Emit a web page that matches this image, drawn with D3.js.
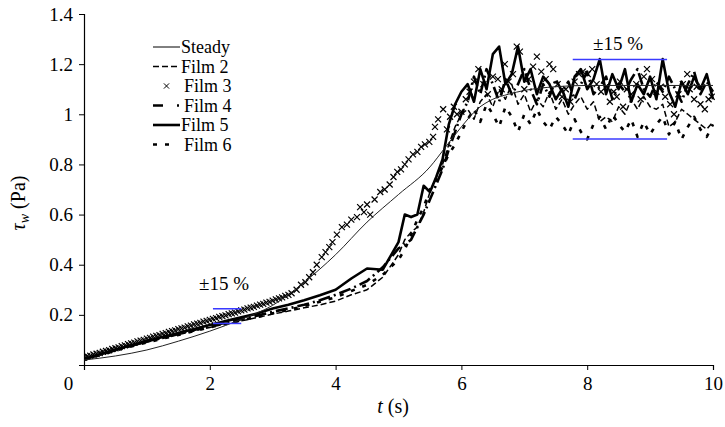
<!DOCTYPE html>
<html>
<head>
<meta charset="utf-8">
<script src="https://cdn.jsdelivr.net/npm/d3@7"></script>
<style>
  html, body { margin: 0; padding: 0; background: #fff; }
  svg { display: block; }
</style>
</head>
<body>
<svg id="chart" width="725" height="427"></svg>
<script>
// Time grid shared by the film records (s)
const tGrid = [0, 0.25, 0.5, 0.75, 1, 1.25, 1.5, 1.75, 2, 2.25, 2.5, 2.75, 3, 3.25, 3.5, 3.75, 4, 4.25, 4.5, 4.75, 5,
  5.1, 5.2, 5.3, 5.4, 5.5, 5.6, 5.7, 5.8, 5.9, 6.0,
  6.1, 6.2, 6.3, 6.4, 6.5, 6.6, 6.7, 6.8, 6.9, 7.0,
  7.1, 7.2, 7.3, 7.4, 7.5, 7.6, 7.7, 7.8, 7.9, 8.0,
  8.1, 8.2, 8.3, 8.4, 8.5, 8.6, 8.7, 8.8, 8.9, 9.0,
  9.1, 9.2, 9.3, 9.4, 9.5, 9.6, 9.7, 9.8, 9.9, 10.0];

// Wall shear stress, Pa
const film2 = [0.022, 0.040, 0.058, 0.075, 0.091, 0.106, 0.121, 0.136, 0.150, 0.163, 0.176, 0.189, 0.203, 0.215, 0.228, 0.240, 0.255, 0.280, 0.300, 0.350, 0.440,
  0.50, 0.53, 0.55, 0.61, 0.69, 0.75, 0.80, 0.88, 0.95, 1.00,
  1.02, 0.98, 1.05, 1.08, 1.03, 1.10, 1.06, 1.12, 1.04, 1.08,
  1.01, 1.06, 1.03, 1.09, 1.02, 1.06, 1.00, 1.04, 1.07, 1.02,
  1.05, 0.97, 0.99, 0.97, 1.03, 1.00, 1.06, 1.02, 1.07, 1.03,
  1.02, 1.04, 0.95, 0.97, 1.02, 1.00, 0.98, 0.96, 0.94, 0.97];

const film4 = [0.022, 0.041, 0.059, 0.077, 0.094, 0.110, 0.125, 0.140, 0.155, 0.169, 0.183, 0.197, 0.212, 0.226, 0.240, 0.258, 0.280, 0.305, 0.335, 0.390, 0.465,
  0.48, 0.50, 0.55, 0.60, 0.66, 0.72, 0.78, 0.86, 0.93, 1.00,
  1.05, 1.15, 1.08, 1.18, 1.12, 1.05, 1.14, 1.08, 1.12, 1.18,
  1.10, 1.04, 1.12, 1.07, 1.14, 1.09, 1.13, 1.06, 1.12, 1.17,
  1.08, 1.11, 1.15, 1.06, 1.12, 1.09, 1.14, 1.18, 1.10, 1.07,
  1.13, 1.09, 1.15, 1.10, 1.05, 1.12, 1.17, 1.08, 1.13, 1.09];

const film5 = [0.025, 0.043, 0.061, 0.079, 0.096, 0.112, 0.128, 0.144, 0.160, 0.175, 0.190, 0.205, 0.225, 0.240, 0.258, 0.278, 0.300, 0.345, 0.385, 0.380, 0.490,
  0.600, 0.590, 0.600, 0.715, 0.690, 0.750, 0.820, 0.960, 1.040, 1.090,
  1.12, 1.05, 1.18, 1.10, 1.24, 1.27, 1.12, 1.16, 1.27, 1.13,
  1.18, 1.08, 1.15, 1.12, 1.06, 1.10, 1.03, 1.15, 1.18, 1.10,
  1.14, 1.22, 1.08, 1.16, 1.10, 1.18, 1.05, 1.12, 1.08, 1.15,
  1.06, 1.22, 1.09, 1.03, 1.13, 1.08, 1.15, 1.10, 1.16, 1.06];

const film6 = [0.020, 0.039, 0.057, 0.074, 0.090, 0.105, 0.120, 0.135, 0.150, 0.164, 0.178, 0.192, 0.206, 0.220, 0.235, 0.252, 0.270, 0.295, 0.320, 0.360, 0.420,
  0.46, 0.52, 0.58, 0.63, 0.70, 0.74, 0.79, 0.84, 0.88, 0.93,
  0.98, 1.02, 0.97, 1.04, 1.00, 0.95, 1.03, 0.99, 0.93, 1.00,
  0.96, 1.02, 0.97, 0.94, 0.99, 0.96, 0.92, 0.98, 0.93, 0.90,
  0.96, 0.99, 0.94, 1.00, 0.96, 0.93, 0.98, 0.91, 0.97, 0.92,
  0.96, 0.99, 0.92, 0.97, 0.90, 0.95, 0.99, 0.94, 0.91, 0.96];

// Film 3 is plotted as individual samples
const film3T = [0.00, 0.05, 0.10, 0.15, 0.20, 0.25, 0.30, 0.35, 0.40, 0.45, 0.50, 0.55, 0.60, 0.65, 0.70, 0.75, 0.80, 0.85, 0.90, 0.95,
  1.00, 1.05, 1.10, 1.15, 1.20, 1.25, 1.30, 1.35, 1.40, 1.45, 1.50, 1.55, 1.60, 1.65, 1.70, 1.75, 1.80, 1.85, 1.90, 1.95,
  2.00, 2.05, 2.10, 2.15, 2.20, 2.25, 2.30, 2.35, 2.40, 2.45, 2.50, 2.55, 2.60, 2.65, 2.70, 2.75, 2.80, 2.85, 2.90, 2.95,
  3.00, 3.05, 3.10, 3.15, 3.20, 3.25, 3.30,
  3.38, 3.45, 3.52, 3.58, 3.64, 3.70, 3.78, 3.84, 3.90, 3.95, 4.02, 4.10, 4.18, 4.25, 4.34, 4.39, 4.45, 4.50, 4.55, 4.62,
  4.71, 4.78, 4.86, 4.92, 4.98, 5.04, 5.10, 5.16, 5.23, 5.30, 5.36, 5.42, 5.49, 5.55, 5.58, 5.63, 5.71, 5.77, 5.82, 5.88,
  5.93, 6.00, 6.07, 6.13, 6.20, 6.27, 6.35, 6.42, 6.50, 6.58, 6.64, 6.69, 6.75, 6.82, 6.88, 6.93, 7.00, 7.07, 7.14, 7.20,
  7.27, 7.34, 7.40, 7.46, 7.53, 7.60, 7.66, 7.73, 7.80, 7.87, 7.93, 8.01, 8.08, 8.15, 8.22, 8.31, 8.36, 8.42, 8.47, 8.52,
  8.57, 8.63, 8.70, 8.78, 8.85, 8.90, 8.95, 9.03, 9.10, 9.17, 9.24, 9.32, 9.38, 9.45, 9.52, 9.59, 9.63, 9.70, 9.74, 9.80,
  9.87, 9.93, 9.98];
const film3V = [0.030, 0.035, 0.037, 0.042, 0.045, 0.048, 0.053, 0.056, 0.059, 0.064, 0.067, 0.070, 0.075, 0.078, 0.083, 0.086, 0.089, 0.094, 0.097, 0.100,
  0.105, 0.108, 0.113, 0.116, 0.119, 0.124, 0.127, 0.132, 0.135, 0.138, 0.143, 0.146, 0.149, 0.154, 0.157, 0.162, 0.165, 0.168, 0.173, 0.176,
  0.180, 0.184, 0.187, 0.192, 0.195, 0.198, 0.203, 0.206, 0.209, 0.214, 0.218, 0.221, 0.226, 0.229, 0.232, 0.237, 0.241, 0.244, 0.249, 0.252,
  0.257, 0.262, 0.266, 0.270, 0.276, 0.280, 0.286,
  0.30, 0.32, 0.33, 0.35, 0.37, 0.40, 0.43, 0.45, 0.47, 0.49, 0.52, 0.55, 0.56, 0.58, 0.59, 0.63, 0.61, 0.64, 0.60, 0.66,
  0.69, 0.70, 0.72, 0.75, 0.77, 0.78, 0.80, 0.82, 0.84, 0.85, 0.87, 0.88, 0.89, 0.91, 0.95, 0.98, 1.02, 0.94, 0.99, 1.03,
  1.00, 1.01, 1.06, 1.09, 1.13, 1.18, 1.12, 1.08, 1.15, 1.14, 1.10, 1.20, 1.13, 1.16, 1.27, 1.25, 1.10, 1.14, 1.19, 1.23,
  1.17, 1.14, 1.20, 1.18, 1.12, 1.07, 1.10, 1.05, 1.13, 1.16, 1.17, 1.16, 1.18, 1.12, 1.09, 1.11, 1.05, 1.09, 1.07, 1.13,
  1.03, 1.10, 1.08, 1.12, 1.06, 1.15, 1.18, 1.14, 1.09, 1.11, 1.07, 1.04, 1.00, 1.08, 1.12, 1.16, 1.10, 1.06, 1.11, 1.04,
  1.02, 1.06, 1.07];

// Steady-flow shear stress at the instantaneous flow rate
const steadyT = [0, 0.5, 1, 1.5, 2, 2.5, 3, 3.5, 4, 4.5, 5, 5.5, 5.75, 6, 6.25, 6.5, 6.75, 7, 7.5, 8, 9, 10];
const steadyV = [0.02, 0.036, 0.060, 0.095, 0.135, 0.182, 0.238, 0.33, 0.44, 0.57, 0.68, 0.79, 0.87, 0.95, 1.02, 1.06, 1.08, 1.095, 1.11, 1.115, 1.115, 1.115];

// ±15 % bands: [tStart, tEnd, reference value]
const bandEarly = [2.05, 2.5, 0.195];
const bandLate = [7.77, 9.27, 1.06];

const xTicks = [0, 2, 4, 6, 8, 10];
const yTicks = [0.2, 0.4, 0.6, 0.8, 1, 1.2, 1.4];

const seriesNames = ["Steady", "Film 2", "Film 3", "Film 4", "Film 5", "Film 6"];

const FAMILY = "Liberation Serif, Times New Roman, serif";

const svg = d3.select("#chart").attr("font-family", FAMILY);
const x = d3.scaleLinear().domain([0, 10]).range([84, 713]);
const y = d3.scaleLinear().domain([0, 1.4]).range([365, 14]);

const FONT = 19;

// Axes
const gx = svg.append("g").attr("transform", `translate(0,${y(0)})`)
  .call(d3.axisBottom(x).tickValues(xTicks).tickSize(5).tickPadding(7).tickFormat(d3.format("d")));
gx.selectAll("text")
  .attr("dx", d => d === 0 ? -16 : 0);

const gy = svg.append("g").attr("transform", `translate(${x(0)},0)`)
  .call(d3.axisLeft(y).tickValues([0].concat(yTicks)).tickSize(5).tickPadding(6)
    .tickFormat(d => d === 0 ? "" : String(d)));

[gx, gy].forEach(g => {
  g.attr("font-family", FAMILY).attr("font-size", FONT);
  g.selectAll("text").attr("fill", "#000");
  g.select(".domain").attr("stroke", "#000").attr("stroke-width", 1.2);
  g.selectAll(".tick line").attr("stroke", "#000").attr("stroke-width", 1);
});

// Axis titles
svg.append("text")
  .attr("x", 393).attr("y", 413).attr("text-anchor", "middle").attr("font-size", 20)
  .call(t => {
    t.append("tspan").attr("font-style", "italic").text("t");
    t.append("tspan").text(" (s)");
  });

svg.append("text")
  .attr("transform", "translate(25,203) rotate(-90)").attr("text-anchor", "middle").attr("font-size", 20)
  .call(t => {
    t.append("tspan").attr("font-style", "italic").text("τ");
    t.append("tspan").attr("font-style", "italic").attr("font-size", 14).attr("dy", 4).text("w");
    t.append("tspan").attr("dy", -4).text(" (Pa)");
  });

// Line styles
const styles = {
  "Steady": { width: 1, dash: null, color: "#222" },
  "Film 2": { width: 1.5, dash: "6,3" },
  "Film 4": { width: 2.6, dash: "12,4,2,4" },
  "Film 5": { width: 2.6, dash: null },
  "Film 6": { width: 2.6, dash: "4,8" }
};

svg.append("clipPath").attr("id", "plot-clip")
  .append("rect").attr("x", x(0)).attr("y", 0).attr("width", x(10) - x(0) + 2).attr("height", y(0));

const plot = svg.append("g").attr("clip-path", "url(#plot-clip)");

const line = d3.line().x(d => x(d[0])).y(d => y(d[1]));
const smooth = d3.line().x(d => x(d[0])).y(d => y(d[1])).curve(d3.curveMonotoneX);

function drawFilm(name, values) {
  const s = styles[name];
  plot.append("path")
    .datum(tGrid.map((t, i) => [t, values[i]]))
    .attr("fill", "none")
    .attr("stroke", "#000")
    .attr("stroke-width", s.width)
    .attr("stroke-linejoin", "round")
    .attr("stroke-dasharray", s.dash)
    .attr("d", line);
}

drawFilm("Film 6", film6);
drawFilm("Film 2", film2);
drawFilm("Film 4", film4);
drawFilm("Film 5", film5);

// Film 3 markers
const cross = (cx, cy, r) => `M${cx - r},${cy - r}L${cx + r},${cy + r}M${cx - r},${cy + r}L${cx + r},${cy - r}`;
plot.append("g").selectAll("path")
  .data(film3T.map((t, i) => [t, film3V[i]]))
  .join("path")
  .attr("d", d => cross(x(d[0]), y(d[1]), 3))
  .attr("stroke", "#000").attr("stroke-width", 1.2).attr("fill", "none");

// Steady curve
plot.append("path")
  .datum(steadyT.map((t, i) => [t, steadyV[i]]))
  .attr("fill", "none").attr("stroke", styles["Steady"].color).attr("stroke-width", 1)
  .attr("d", smooth);

// ±15 % bands
function band(b, labelX, labelY) {
  const [t0, t1, v] = b;
  [1.15, 0.85].forEach(f => {
    svg.append("line")
      .attr("x1", x(t0)).attr("x2", x(t1)).attr("y1", y(v * f)).attr("y2", y(v * f))
      .attr("stroke", "#3a3aff").attr("stroke-width", 1.5);
  });
  svg.append("text").attr("x", labelX).attr("y", labelY).attr("text-anchor", "middle")
    .attr("font-size", 19).text("±15 %");
}
band(bandEarly, 224, 290);
band(bandLate, 618, 50);

// Legend
const legend = svg.append("g").attr("font-size", 18);
const rowY = [47, 66.5, 86, 105.5, 125, 144.5];
const legendDash = {
  "Steady": null,
  "Film 2": "6,3",
  "Film 4": "10,14,2,6",
  "Film 5": null,
  "Film 6": "4,8,4,20"
};
seriesNames.forEach((name, i) => {
  const yy = rowY[i];
  if (name === "Film 3") {
    legend.append("path").attr("d", cross(166.5, yy, 2.6))
      .attr("stroke", "#000").attr("stroke-width", 1).attr("fill", "none");
  } else {
    legend.append("line")
      .attr("x1", 153).attr("x2", 180).attr("y1", yy).attr("y2", yy)
      .attr("stroke", "#000").attr("stroke-width", styles[name].width)
      .attr("stroke-dasharray", legendDash[name]);
  }
  legend.append("text").attr("x", name === "Steady" || name === "Film 2" || name === "Film 5" ? 181 : 184)
    .attr("y", yy + 6).text(name);
});
</script>
</body>
</html>
